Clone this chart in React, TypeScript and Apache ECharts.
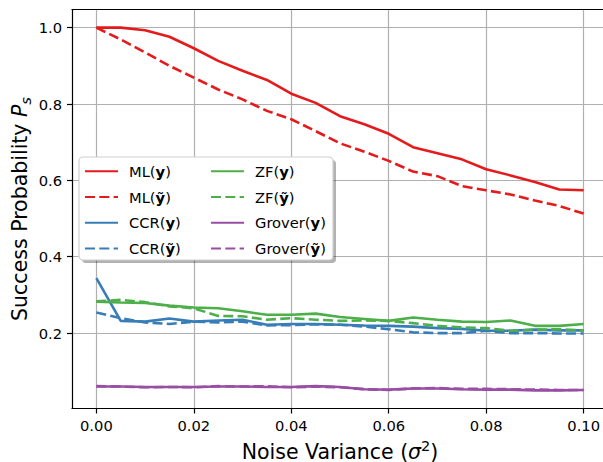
import React, { useEffect, useRef } from "react";
import * as echarts from "echarts";

const noiseVar = [0, 0.005, 0.01, 0.015, 0.02, 0.025, 0.03, 0.035, 0.04, 0.045, 0.05, 0.055, 0.06, 0.065, 0.07, 0.075, 0.08, 0.085, 0.09, 0.095, 0.1];

const mlY = [1.0, 1.0, 0.993, 0.976, 0.946, 0.913, 0.887, 0.863, 0.827, 0.803, 0.768, 0.747, 0.722, 0.687, 0.671, 0.655, 0.629, 0.613, 0.596, 0.576, 0.574];
const mlYt = [1.0, 0.969, 0.935, 0.9, 0.869, 0.838, 0.812, 0.782, 0.76, 0.729, 0.697, 0.675, 0.651, 0.623, 0.611, 0.585, 0.574, 0.563, 0.547, 0.533, 0.513];
const ccrY = [0.344, 0.232, 0.23, 0.238, 0.23, 0.233, 0.235, 0.222, 0.224, 0.224, 0.222, 0.22, 0.219, 0.217, 0.213, 0.211, 0.206, 0.206, 0.209, 0.207, 0.207];
const ccrYt = [0.254, 0.239, 0.228, 0.224, 0.23, 0.228, 0.23, 0.22, 0.221, 0.223, 0.222, 0.217, 0.21, 0.202, 0.2, 0.2, 0.206, 0.2, 0.2, 0.199, 0.199];
const zfY = [0.282, 0.28, 0.279, 0.272, 0.267, 0.265, 0.257, 0.248, 0.248, 0.251, 0.242, 0.237, 0.232, 0.241, 0.235, 0.23, 0.229, 0.233, 0.219, 0.219, 0.224];
const zfYt = [0.283, 0.287, 0.281, 0.27, 0.265, 0.245, 0.244, 0.235, 0.239, 0.235, 0.232, 0.233, 0.232, 0.226, 0.219, 0.215, 0.213, 0.206, 0.209, 0.21, 0.207];
const groverY = [0.06, 0.06, 0.059, 0.059, 0.059, 0.06, 0.06, 0.059, 0.059, 0.061, 0.059, 0.053, 0.052, 0.055, 0.055, 0.053, 0.052, 0.052, 0.05, 0.05, 0.051];
const groverYt = [0.061, 0.06, 0.058, 0.059, 0.058, 0.061, 0.06, 0.061, 0.058, 0.06, 0.058, 0.053, 0.051, 0.055, 0.056, 0.054, 0.054, 0.053, 0.052, 0.051, 0.051];

const xTicks = [0, 0.02, 0.04, 0.06, 0.08, 0.1];
const yTicks = [0.2, 0.4, 0.6, 0.8, 1.0];

const seriesNames = ["ML(y)", "ML(ỹ)", "CCR(y)", "CCR(ỹ)", "ZF(y)", "ZF(ỹ)", "Grover(y)", "Grover(ỹ)"];
const seriesData = [mlY, mlYt, ccrY, ccrYt, zfY, zfYt, groverY, groverYt];
const seriesColors = ["#e41a1c", "#e41a1c", "#377eb8", "#377eb8", "#4daf4a", "#4daf4a", "#984ea3", "#984ea3"];

const FONT = "DejaVu Sans";

export default function App() {
  const ref = useRef<HTMLDivElement>(null);
  useEffect(() => {
    document.body.style.margin = "0";
    const chart = echarts.init(ref.current!, null, { renderer: "svg" });
    const series = seriesNames.map((name, i) => ({
      name,
      type: "line",
      xAxisIndex: 0,
      data: noiseVar.map((x, j) => [x, seriesData[i][j]]),
      showSymbol: false,
      symbol: "none",
      color: seriesColors[i],
      lineStyle: {
        color: seriesColors[i],
        width: 2.6,
        type: i % 2 === 1 ? [10, 4.3] : "solid",
      },
      z: 2 + i * 0.01,
    }));
    const legendCommon = {
      orient: "vertical",
      itemWidth: 33,
      itemHeight: 14,
      itemGap: 10.8,
      padding: 0,
      z: 20,
      itemStyle: { opacity: 0, borderWidth: 0 },
      textStyle: {
        fontFamily: FONT,
        fontSize: 14.7,
        color: "#000",
        padding: [0, 0, 0, 6],
        rich: {
          b: { fontFamily: FONT, fontSize: 14.7, fontWeight: "bold", color: "#000" },
        },
      },
      formatter: (name: string) => name.replace(/\((.+)\)/, "({b|$1})"),
    };
    chart.setOption({
      animation: false,
      backgroundColor: "#fff",
      textStyle: { fontFamily: FONT },
      grid: {
        left: 72,
        top: 9.5,
        width: 536,
        height: 399,
        show: false,
        containLabel: false,
        outerBoundsMode: "none",
      },
      xAxis: [
        {
          type: "value",
          position: "bottom",
          min: -0.005,
          max: 0.105,
          name: "Noise Variance ({i|σ}{sup|2})",
          nameLocation: "middle",
          nameGap: 30,
          nameMoveOverlap: false,
          nameTextStyle: {
            fontFamily: FONT,
            fontSize: 20.5,
            color: "#000",
            lineHeight: 26,
            rich: {
              i: { fontFamily: FONT, fontSize: 20.5, fontStyle: "italic", color: "#000", lineHeight: 26 },
              sup: { fontFamily: FONT, fontSize: 14.5, color: "#000", lineHeight: 12, verticalAlign: "top" },
            },
          },
          axisLine: { show: true, onZero: false, lineStyle: { color: "#000", width: 1.2 } },
          axisTick: { show: true, length: 5, lineStyle: { color: "#000", width: 1.2 }, customValues: xTicks },
          axisLabel: {
            customValues: xTicks,
            formatter: (v: number) => v.toFixed(2),
            fontFamily: FONT,
            fontSize: 14.7,
            color: "#000",
            margin: 9,
          },
          splitLine: { show: true, lineStyle: { color: "#b0b0b0", width: 1.2 } },
        },
        {
          type: "value",
          position: "top",
          min: -0.005,
          max: 0.105,
          axisLine: { show: true, onZero: false, lineStyle: { color: "#000", width: 1.2 } },
          axisTick: { show: false },
          axisLabel: { show: false },
          splitLine: { show: false },
        },
      ],
      yAxis: {
        type: "value",
        min: 0.0025,
        max: 1.0475,
        name: "Success Probability {i|P}{sub|s}",
        nameLocation: "middle",
        nameGap: 39,
        nameMoveOverlap: false,
        nameTextStyle: {
          fontFamily: FONT,
          fontSize: 20.5,
          color: "#000",
          lineHeight: 26,
          rich: {
            i: { fontFamily: FONT, fontSize: 20.5, fontStyle: "italic", color: "#000", lineHeight: 26 },
            sub: { fontFamily: FONT, fontSize: 14.5, fontStyle: "italic", color: "#000", lineHeight: 14, verticalAlign: "bottom" },
          },
        },
        axisLine: { show: true, onZero: false, lineStyle: { color: "#000", width: 1.2 } },
        axisTick: { show: true, length: 5, lineStyle: { color: "#000", width: 1.2 }, customValues: yTicks },
        axisLabel: {
          customValues: yTicks,
          formatter: (v: number) => v.toFixed(1),
          fontFamily: FONT,
          fontSize: 14.7,
          color: "#000",
          margin: 10,
        },
        splitLine: { show: true, lineStyle: { color: "#b0b0b0", width: 1.2 } },
      },
      legend: [
        { ...legendCommon, left: 84, top: 163.7, data: seriesNames.slice(0, 4) },
        { ...legendCommon, left: 210, top: 163.7, data: seriesNames.slice(4, 8) },
      ],
      graphic: [
        {
          type: "rect",
          z: 10,
          shape: { x: 82, y: 160, width: 254, height: 103, r: 4 },
          style: { fill: "rgba(0,0,0,0.3)" },
        },
        {
          type: "rect",
          z: 11,
          shape: { x: 79, y: 157, width: 254, height: 103, r: 4 },
          style: { fill: "#fff", stroke: "#d0d0d0", lineWidth: 1.2 },
        },
      ],
      series,
    });
    return () => chart.dispose();
  }, []);
  return (
    <div style={{ position: "fixed", left: 0, top: 0, width: 603, height: 462, overflow: "hidden" }}>
      <div ref={ref} style={{ width: 630, height: 462 }} />
    </div>
  );
}
